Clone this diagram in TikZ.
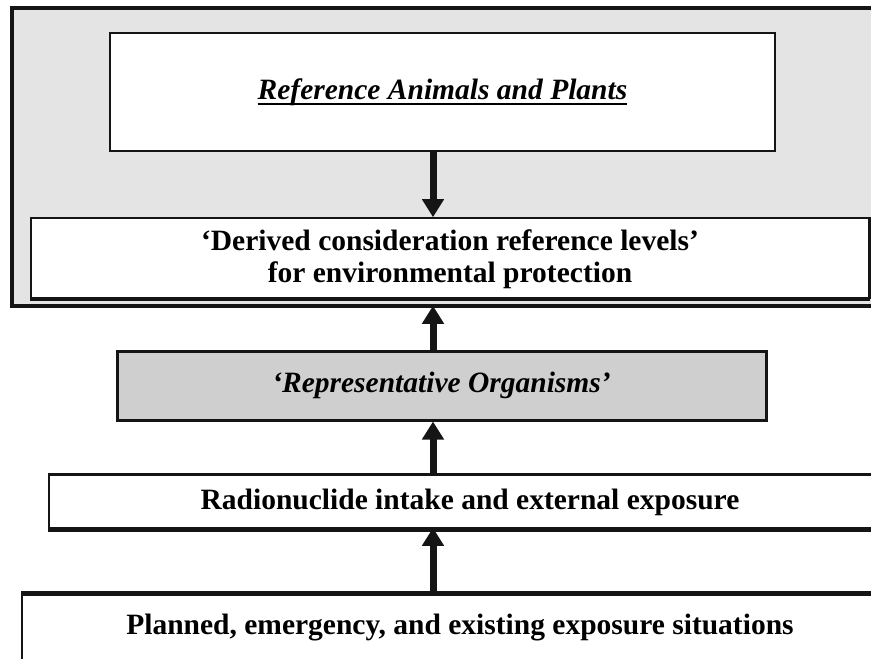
\documentclass[tikz,border=0pt]{standalone}
\usepackage{fontspec}
\setmainfont{Liberation Serif}
\usetikzlibrary{arrows.meta}
\definecolor{outergray}{HTML}{E4E4E4}
\definecolor{repgray}{HTML}{CFCFCF}
\definecolor{ink}{HTML}{151515}
\newcommand\myul[1]{\setbox0\hbox{#1}\rlap{\rule[-6pt]{\wd0}{2.5pt}}\box0}
\tikzset{
  boxstyle/.style={draw=ink, line width=1.6pt, fill=white, inner sep=0pt, font=\fontsize{29.5}{32}\selectfont\bfseries, align=center},
  arr/.style={draw=ink, line width=7pt, -{Triangle[width=21pt,length=18pt]}},
}
\begin{document}
\begin{tikzpicture}[x=1pt,y=-1pt]
\useasboundingbox (0,0) rectangle (871,659);
% outer gray frame
\node[draw=ink, line width=3.5pt, fill=outergray, minimum width=900pt, minimum height=298pt, inner sep=0pt] (outer) at (462,157) {};
% boxes
\node[boxstyle, minimum width=665pt, minimum height=118pt] (ref) at (442.5,92) {\itshape\myul{Reference Animals and Plants}};
\node[boxstyle, minimum width=838pt, minimum height=82pt] (der) at (450,259) {`Derived consideration reference levels'\\ for environmental protection};
\draw[ink, line width=4.5pt] ([yshift=2pt]der.south west) -- ([yshift=2pt]der.south east);
\draw[ink, line width=3.5pt] (der.north east) -- ([yshift=2pt]der.south east);
\node[boxstyle, line width=3pt, fill=repgray, minimum width=649pt, minimum height=69pt] (rep) at (441.5,385.5) {\itshape `Representative Organisms'};
\node[boxstyle, minimum width=842pt, minimum height=55pt] (rad) at (470,502.5) {Radionuclide intake and external exposure};
\draw[ink, line width=3pt] (rad.north west) -- (rad.north east);
\draw[ink, line width=5pt] ([yshift=1pt]rad.south west) -- ([yshift=1pt]rad.south east);
\node[boxstyle, minimum width=876pt, minimum height=70pt] (pla) at (460,628) {Planned, emergency, and existing exposure situations};
\draw[ink, line width=5pt] ([yshift=-1pt]pla.north west) -- ([yshift=-1pt]pla.north east);
% arrows
\coordinate (ax) at (433,0);
\draw[arr] (ref.south -| ax) -- (der.north -| ax);
\draw[arr] (rep.north -| ax) -- ([yshift=2pt]outer.south -| ax);
\draw[arr] (rad.north -| ax) -- (rep.south -| ax);
\draw[arr] ([yshift=-3pt]pla.north -| ax) -- ([yshift=3pt]rad.south -| ax);
\end{tikzpicture}
\end{document}
